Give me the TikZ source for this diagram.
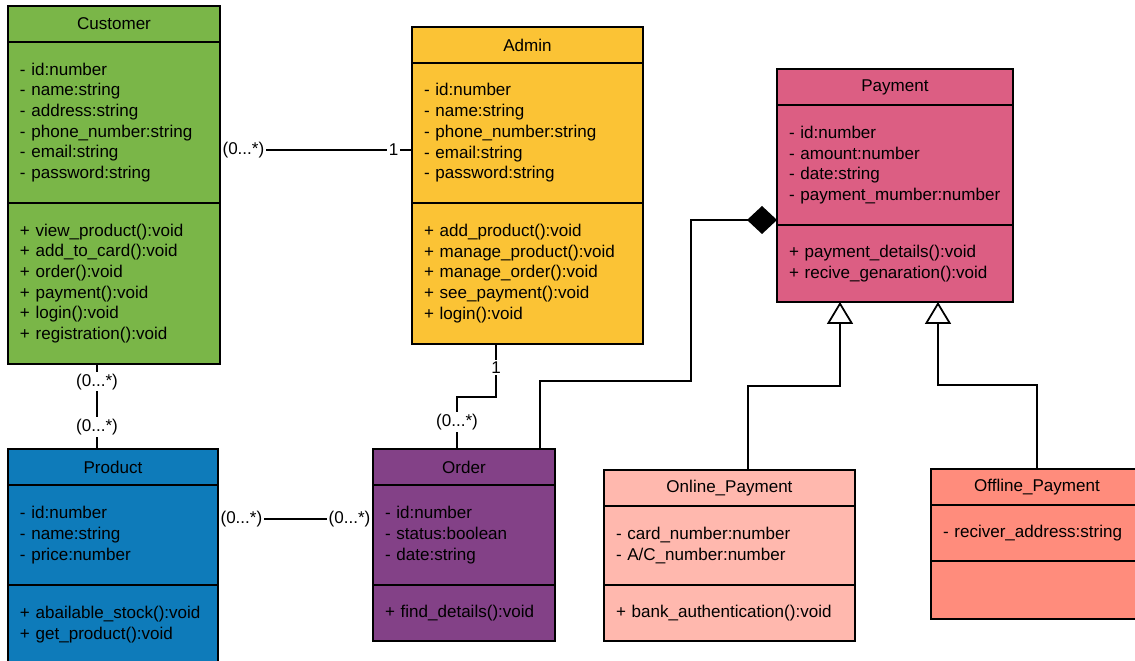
\documentclass[tikz,border=0pt]{standalone}
\usepackage{fontspec}
\setmainfont{Liberation Sans}
\usetikzlibrary{arrows.meta,positioning,calc}
\definecolor{custgreen}{HTML}{7AB648}
\definecolor{admyellow}{HTML}{FBC335}
\definecolor{paypink}{HTML}{DC5E83}
\definecolor{prodblue}{HTML}{0E7BBA}
\definecolor{ordpurple}{HTML}{834187}
\definecolor{onlsalmon}{HTML}{FFB8AE}
\definecolor{offsalmon}{HTML}{FF8C7C}
\tikzset{
    part/.style={draw, line width=1pt, outer sep=0pt, inner xsep=0.24cm, inner ysep=0pt, align=left, font=\fontsize{9.7}{11.8}\selectfont},
    head/.style={part, align=center, minimum height=0.72cm, anchor=north west},
    link/.style={line width=1pt},
    lbl/.style={fill=white, inner sep=1pt, font=\fontsize{9.7}{11.8}\selectfont},
    compo/.style={link, -{Diamond[length=0.6cm,width=0.56cm]}},
    inherit/.style={link, -{Triangle[open,length=0.44cm,width=0.52cm,fill=white]}}
}
\begin{document}
\begin{tikzpicture}[x=0.02cm, y=-0.02cm]
        \clip (0,0) rectangle (1135,661);
        \fill[white] (0,0) rectangle (1135,661);
        \node[head, fill=custgreen, text width=3.76cm] (cust) at (8,6) {Customer};
        \node[part, fill=custgreen, text width=3.76cm, minimum height=3.22cm, below=0pt of cust] (cust-a) {- id:number\\- name:string\\- address:string\\- phone\_number:string\\- email:string\\- password:string};
        \node[part, fill=custgreen, text width=3.76cm, minimum height=3.22cm, below=0pt of cust-a] (cust-m) {+ view\_product():void\\+ add\_to\_card():void\\+ order():void\\+ payment():void\\+ login():void\\+ registration():void};
        \node[head, fill=admyellow, text width=4.14cm] (adm) at (412,27) {Admin};
        \node[part, fill=admyellow, text width=4.14cm, minimum height=2.8cm, below=0pt of adm] (adm-a) {- id:number\\- name:string\\- phone\_number:string\\- email:string\\- password:string};
        \node[part, fill=admyellow, text width=4.14cm, minimum height=2.82cm, below=0pt of adm-a] (adm-m) {+ add\_product():void\\+ manage\_product():void\\+ manage\_order():void\\+ see\_payment():void\\+ login():void};
        \node[head, fill=paypink, text width=4.24cm] (pay) at (777,69) {Payment};
        \node[part, fill=paypink, text width=4.24cm, minimum height=2.4cm, below=0pt of pay] (pay-a) {- id:number\\- amount:number\\- date:string\\- payment\_mumber:number};
        \node[part, fill=paypink, text width=4.24cm, minimum height=1.54cm, below=0pt of pay-a] (pay-m) {+ payment\_details():void\\+ recive\_genaration():void};
        \node[head, fill=prodblue, text width=3.72cm] (prod) at (8,449) {Product};
        \node[part, fill=prodblue, text width=3.72cm, minimum height=2cm, below=0pt of prod] (prod-a) {- id:number\\- name:string\\- price:number};
        \node[part, fill=prodblue, text width=3.72cm, minimum height=2cm, below=0pt of prod-a] (prod-m) {+ abailable\_stock():void\\+ get\_product():void\\[2pt]\mbox{}};
        \node[head, fill=ordpurple, text width=3.16cm] (ord) at (373,449) {Order};
        \node[part, fill=ordpurple, text width=3.16cm, minimum height=2cm, below=0pt of ord] (ord-a) {- id:number\\- status:boolean\\- date:string};
        \node[part, fill=ordpurple, text width=3.16cm, minimum height=1.12cm, below=0pt of ord-a] (ord-m) {+ find\_details():void};
        \node[head, fill=onlsalmon, text width=4.54cm] (onl) at (604,470) {Online\_Payment};
        \node[part, fill=onlsalmon, text width=4.54cm, minimum height=1.58cm, below=0pt of onl] (onl-a) {- card\_number:number\\- A/C\_number:number};
        \node[part, fill=onlsalmon, text width=4.54cm, minimum height=1.12cm, below=0pt of onl-a] (onl-m) {+ bank\_authentication():void};
        \node[head, fill=offsalmon, text width=3.76cm] (off) at (931,469) {Offline\_Payment};
        \node[part, fill=offsalmon, text width=3.76cm, minimum height=1.12cm, below=0pt of off] (off-a) {- reciver\_address:string};
        \node[part, fill=offsalmon, text width=3.76cm, minimum height=1.16cm, below=0pt of off-a] (off-m) {};
        \draw[link] (cust-a.east |- 0,150) -- node[lbl, pos=0, anchor=west]{(0...*)} node[lbl, pos=1, anchor=east, xshift=-0.22cm]{1} (adm-a.west |- 0,150);
        \draw[link] (97,0 |- cust-m.south) -- node[lbl, pos=0.21]{(0...*)} node[lbl, pos=0.74]{(0...*)} (97,0 |- prod.north);
        \draw[link] (496,0 |- adm-m.south) -- node[lbl, pos=0.45]{1} (496,397) -- (457,397) -- node[lbl, pos=0.48]{(0...*)} (457,0 |- ord.north);
        \draw[link] (prod-a.east |- 0,519) -- node[lbl, pos=0, anchor=west]{(0...*)} node[lbl, pos=1, anchor=east]{(0...*)} (ord-a.west |- 0,519);
        \draw[compo] (540,0 |- ord.north) |- (691,381) |- (pay-a.west |- 0,220);
        \draw[inherit] (748,0 |- onl.north) |- (840,386) -- (840,0 |- pay-m.south);
        \draw[inherit] (1037,0 |- off.north) |- (938,385) -- (938,0 |- pay-m.south);
\end{tikzpicture}
\end{document}
